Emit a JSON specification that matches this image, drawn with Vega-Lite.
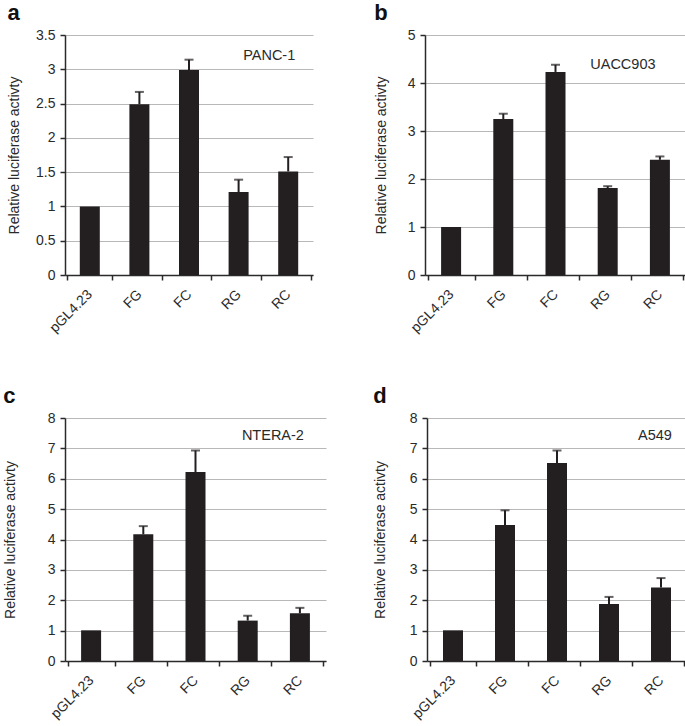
{
  "$schema": "https://vega.github.io/schema/vega-lite/v6.json",
  "padding": {"left": 3, "top": 2, "right": 0, "bottom": 0},
  "background": "white",
  "config": {
    "font": "Liberation Sans",
    "view": {"stroke": null},
    "axis": {
      "labelFont": "Liberation Sans",
      "titleFont": "Liberation Sans",
      "labelFontSize": 14,
      "titleFontSize": 14,
      "titleFontWeight": "normal",
      "labelColor": "#2a2a2a",
      "titleColor": "#2a2a2a",
      "domainColor": "#2a2a2a",
      "domainWidth": 1.5,
      "tickColor": "#2a2a2a",
      "tickWidth": 1.5,
      "tickSize": 5,
      "labelPadding": 5
    },
    "text": {"fontWeight": "normal"},
    "title": {"anchor": "start", "frame": "bounds", "fontSize": 22, "fontWeight": "bold", "color": "#111", "font": "Liberation Sans", "offset": 3}
  },
  "datasets": {
    "lucif": [
      {"panel": "a", "construct": "pGL4.23", "value": 1.0, "upper": null},
      {"panel": "a", "construct": "FG", "value": 2.49, "upper": 2.67},
      {"panel": "a", "construct": "FC", "value": 2.99, "upper": 3.14},
      {"panel": "a", "construct": "RG", "value": 1.21, "upper": 1.39},
      {"panel": "a", "construct": "RC", "value": 1.51, "upper": 1.72},
      {"panel": "b", "construct": "pGL4.23", "value": 1.0, "upper": null},
      {"panel": "b", "construct": "FG", "value": 3.25, "upper": 3.36},
      {"panel": "b", "construct": "FC", "value": 4.23, "upper": 4.38},
      {"panel": "b", "construct": "RG", "value": 1.81, "upper": 1.85},
      {"panel": "b", "construct": "RC", "value": 2.4, "upper": 2.47},
      {"panel": "c", "construct": "pGL4.23", "value": 1.01, "upper": null},
      {"panel": "c", "construct": "FG", "value": 4.17, "upper": 4.44},
      {"panel": "c", "construct": "FC", "value": 6.22, "upper": 6.93},
      {"panel": "c", "construct": "RG", "value": 1.33, "upper": 1.49},
      {"panel": "c", "construct": "RC", "value": 1.57, "upper": 1.75},
      {"panel": "d", "construct": "pGL4.23", "value": 1.01, "upper": null},
      {"panel": "d", "construct": "FG", "value": 4.48, "upper": 4.96},
      {"panel": "d", "construct": "FC", "value": 6.52, "upper": 6.93},
      {"panel": "d", "construct": "RG", "value": 1.88, "upper": 2.11},
      {"panel": "d", "construct": "RC", "value": 2.42, "upper": 2.73}
    ]
  },
  "spacing": 50,
  "vconcat": [
    {
      "spacing": 61,
      "hconcat": [
        {
          "title": "a",
          "width": 248,
          "height": 240,
          "data": {"name": "lucif"},
          "transform": [{"filter": "datum.panel == 'a'"}],
          "encoding": {
            "x": {"field": "construct", "type": "nominal", "sort": ["pGL4.23", "FG", "FC", "RG", "RC"], "title": null,
              "axis": {"labelAngle": -45, "labelAlign": "right", "labelBaseline": "middle", "tickBand": "extent", "grid": false, "labelPadding": 12}}
          },
          "layer": [
            {"mark": {"type": "bar", "size": 20, "color": "#231f20"},
             "encoding": {"y": {"field": "value", "type": "quantitative", "scale": {"domain": [0, 3.5]},
               "axis": {"values": [0, 0.5, 1, 1.5, 2, 2.5, 3, 3.5], "format": "~g", "grid": true, "gridColor": "#b8b8b8", "gridWidth": 1, "titlePadding": 14},
               "title": "Relative luciferase activty"}}},
            {"transform": [{"filter": "datum.upper != null"}], "mark": {"type": "rule", "color": "#231f20", "strokeWidth": 2},
             "encoding": {"y": {"field": "value", "type": "quantitative",
               "axis": {"values": [0, 0.5, 1, 1.5, 2, 2.5, 3, 3.5], "format": "~g", "grid": true, "gridColor": "#b8b8b8", "gridWidth": 1, "titlePadding": 14},
               "title": "Relative luciferase activty"}, "y2": {"field": "upper"}}},
            {"transform": [{"filter": "datum.upper != null"}], "mark": {"type": "tick", "color": "#231f20", "size": 9, "thickness": 2, "orient": "horizontal"},
             "encoding": {"y": {"field": "upper", "type": "quantitative",
               "axis": {"values": [0, 0.5, 1, 1.5, 2, 2.5, 3, 3.5], "format": "~g", "grid": true, "gridColor": "#b8b8b8", "gridWidth": 1, "titlePadding": 14},
               "title": "Relative luciferase activty"}}},
            {"data": {"values": [{"panel": "a", "label": "PANC-1"}]},
             "mark": {"type": "text", "fontSize": 14.5, "fontWeight": "normal", "color": "#2a2a2a", "dx": -19, "align": "center", "baseline": "middle"},
             "encoding": {"text": {"field": "label"}, "x": {"datum": "RC"}, "y": {"datum": 3.2, "type": "quantitative",
               "axis": {"values": [0, 0.5, 1, 1.5, 2, 2.5, 3, 3.5], "format": "~g", "grid": true, "gridColor": "#b8b8b8", "gridWidth": 1, "titlePadding": 14},
               "title": "Relative luciferase activty"}}}
          ]
        },
        {
          "title": "b",
          "width": 261,
          "height": 240,
          "data": {"name": "lucif"},
          "transform": [{"filter": "datum.panel == 'b'"}],
          "encoding": {
            "x": {"field": "construct", "type": "nominal", "sort": ["pGL4.23", "FG", "FC", "RG", "RC"], "title": null,
              "axis": {"labelAngle": -45, "labelAlign": "right", "labelBaseline": "middle", "tickBand": "extent", "grid": false, "labelPadding": 12}}
          },
          "layer": [
            {"mark": {"type": "bar", "size": 20, "color": "#231f20"},
             "encoding": {"y": {"field": "value", "type": "quantitative", "scale": {"domain": [0, 5]},
               "axis": {"values": [0, 1, 2, 3, 4, 5], "format": "~g", "grid": true, "gridColor": "#b8b8b8", "gridWidth": 1, "titlePadding": 19},
               "title": "Relative luciferase activty"}}},
            {"transform": [{"filter": "datum.upper != null"}], "mark": {"type": "rule", "color": "#231f20", "strokeWidth": 2},
             "encoding": {"y": {"field": "value", "type": "quantitative",
               "axis": {"values": [0, 1, 2, 3, 4, 5], "format": "~g", "grid": true, "gridColor": "#b8b8b8", "gridWidth": 1, "titlePadding": 19},
               "title": "Relative luciferase activty"}, "y2": {"field": "upper"}}},
            {"transform": [{"filter": "datum.upper != null"}], "mark": {"type": "tick", "color": "#231f20", "size": 9, "thickness": 2, "orient": "horizontal"},
             "encoding": {"y": {"field": "upper", "type": "quantitative",
               "axis": {"values": [0, 1, 2, 3, 4, 5], "format": "~g", "grid": true, "gridColor": "#b8b8b8", "gridWidth": 1, "titlePadding": 19},
               "title": "Relative luciferase activty"}}},
            {"data": {"values": [{"panel": "b", "label": "UACC903"}]},
             "mark": {"type": "text", "fontSize": 14.5, "fontWeight": "normal", "color": "#2a2a2a", "dx": -37, "align": "center", "baseline": "middle"},
             "encoding": {"text": {"field": "label"}, "x": {"datum": "RC"}, "y": {"datum": 4.37, "type": "quantitative",
               "axis": {"values": [0, 1, 2, 3, 4, 5], "format": "~g", "grid": true, "gridColor": "#b8b8b8", "gridWidth": 1, "titlePadding": 19},
               "title": "Relative luciferase activty"}}}
          ]
        }
      ]
    },
    {
      "spacing": 47,
      "hconcat": [
        {
          "title": "c",
          "width": 261,
          "height": 243,
          "data": {"name": "lucif"},
          "transform": [{"filter": "datum.panel == 'c'"}],
          "encoding": {
            "x": {"field": "construct", "type": "nominal", "sort": ["pGL4.23", "FG", "FC", "RG", "RC"], "title": null,
              "axis": {"labelAngle": -45, "labelAlign": "right", "labelBaseline": "middle", "tickBand": "extent", "grid": false, "labelPadding": 12}}
          },
          "layer": [
            {"mark": {"type": "bar", "size": 20, "color": "#231f20"},
             "encoding": {"y": {"field": "value", "type": "quantitative", "scale": {"domain": [0, 8]},
               "axis": {"values": [0, 1, 2, 3, 4, 5, 6, 7, 8], "format": "~g", "grid": true, "gridColor": "#b8b8b8", "gridWidth": 1, "titlePadding": 30},
               "title": "Relative luciferase activty"}}},
            {"transform": [{"filter": "datum.upper != null"}], "mark": {"type": "rule", "color": "#231f20", "strokeWidth": 2},
             "encoding": {"y": {"field": "value", "type": "quantitative",
               "axis": {"values": [0, 1, 2, 3, 4, 5, 6, 7, 8], "format": "~g", "grid": true, "gridColor": "#b8b8b8", "gridWidth": 1, "titlePadding": 30},
               "title": "Relative luciferase activty"}, "y2": {"field": "upper"}}},
            {"transform": [{"filter": "datum.upper != null"}], "mark": {"type": "tick", "color": "#231f20", "size": 9, "thickness": 2, "orient": "horizontal"},
             "encoding": {"y": {"field": "upper", "type": "quantitative",
               "axis": {"values": [0, 1, 2, 3, 4, 5, 6, 7, 8], "format": "~g", "grid": true, "gridColor": "#b8b8b8", "gridWidth": 1, "titlePadding": 30},
               "title": "Relative luciferase activty"}}},
            {"data": {"values": [{"panel": "c", "label": "NTERA-2"}]},
             "mark": {"type": "text", "fontSize": 14.5, "fontWeight": "normal", "color": "#2a2a2a", "dx": -27, "align": "center", "baseline": "middle"},
             "encoding": {"text": {"field": "label"}, "x": {"datum": "RC"}, "y": {"datum": 7.42, "type": "quantitative",
               "axis": {"values": [0, 1, 2, 3, 4, 5, 6, 7, 8], "format": "~g", "grid": true, "gridColor": "#b8b8b8", "gridWidth": 1, "titlePadding": 30},
               "title": "Relative luciferase activty"}}}
          ]
        },
        {
          "title": "d",
          "width": 260,
          "height": 243,
          "data": {"name": "lucif"},
          "transform": [{"filter": "datum.panel == 'd'"}],
          "encoding": {
            "x": {"field": "construct", "type": "nominal", "sort": ["pGL4.23", "FG", "FC", "RG", "RC"], "title": null,
              "axis": {"labelAngle": -45, "labelAlign": "right", "labelBaseline": "middle", "tickBand": "extent", "grid": false, "labelPadding": 12}}
          },
          "layer": [
            {"mark": {"type": "bar", "size": 20, "color": "#231f20"},
             "encoding": {"y": {"field": "value", "type": "quantitative", "scale": {"domain": [0, 8]},
               "axis": {"values": [0, 1, 2, 3, 4, 5, 6, 7, 8], "format": "~g", "grid": true, "gridColor": "#b8b8b8", "gridWidth": 1, "titlePadding": 22},
               "title": "Relative luciferase activty"}}},
            {"transform": [{"filter": "datum.upper != null"}], "mark": {"type": "rule", "color": "#231f20", "strokeWidth": 2},
             "encoding": {"y": {"field": "value", "type": "quantitative",
               "axis": {"values": [0, 1, 2, 3, 4, 5, 6, 7, 8], "format": "~g", "grid": true, "gridColor": "#b8b8b8", "gridWidth": 1, "titlePadding": 22},
               "title": "Relative luciferase activty"}, "y2": {"field": "upper"}}},
            {"transform": [{"filter": "datum.upper != null"}], "mark": {"type": "tick", "color": "#231f20", "size": 9, "thickness": 2, "orient": "horizontal"},
             "encoding": {"y": {"field": "upper", "type": "quantitative",
               "axis": {"values": [0, 1, 2, 3, 4, 5, 6, 7, 8], "format": "~g", "grid": true, "gridColor": "#b8b8b8", "gridWidth": 1, "titlePadding": 22},
               "title": "Relative luciferase activty"}}},
            {"data": {"values": [{"panel": "d", "label": "A549"}]},
             "mark": {"type": "text", "fontSize": 14.5, "fontWeight": "normal", "color": "#2a2a2a", "dx": -6, "align": "center", "baseline": "middle"},
             "encoding": {"text": {"field": "label"}, "x": {"datum": "RC"}, "y": {"datum": 7.42, "type": "quantitative",
               "axis": {"values": [0, 1, 2, 3, 4, 5, 6, 7, 8], "format": "~g", "grid": true, "gridColor": "#b8b8b8", "gridWidth": 1, "titlePadding": 22},
               "title": "Relative luciferase activty"}}}
          ]
        }
      ]
    }
  ]
}
